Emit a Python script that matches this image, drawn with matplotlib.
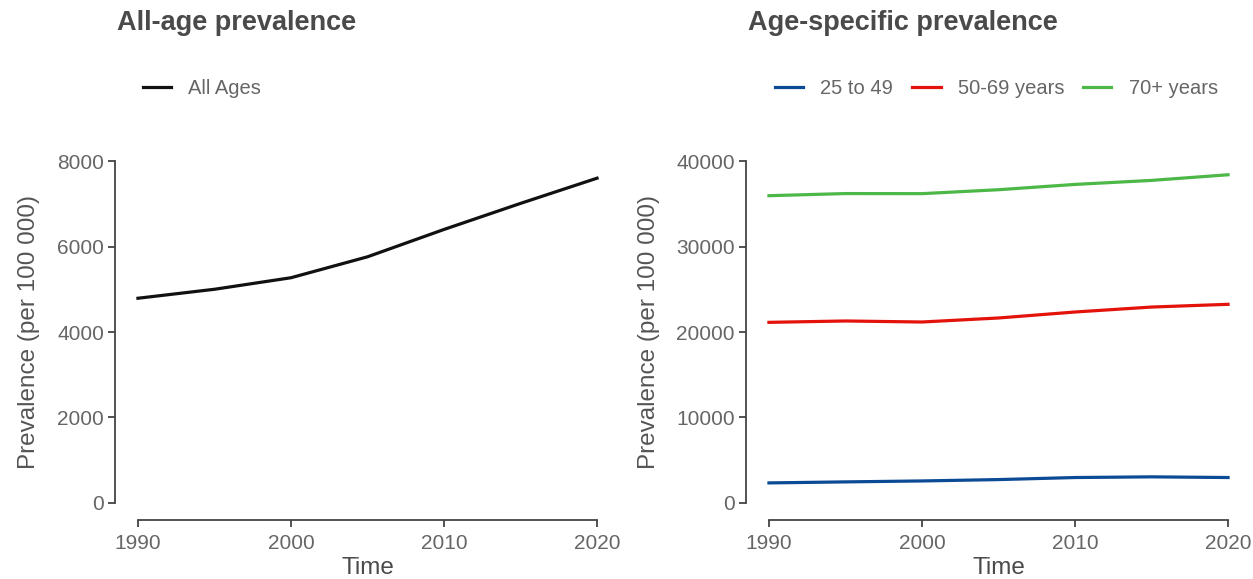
import matplotlib
matplotlib.use("Agg")
from matplotlib import pyplot as plt

plt.rcParams['font.family'] = ['Liberation Sans', 'DejaVu Sans']

years = [1990, 1995, 2000, 2005, 2010, 2015, 2020]

# all-age prevalence (per 100 000)
all_ages = [4790, 5000, 5270, 5760, 6400, 7010, 7600]

# age-specific prevalence (per 100 000)
age_25_49 = [2340, 2460, 2570, 2730, 2970, 3050, 2970]
age_50_69 = [21130, 21290, 21170, 21640, 22340, 22920, 23240]
age_70_plus = [35950, 36200, 36190, 36650, 37270, 37740, 38400]

age_labels = ['25 to 49', '50-69 years', '70+ years']
age_colors = ['#0B4A94', '#E3120B', '#4DB847']

x_ticks = [1990, 2000, 2010, 2020]

axis_col = '#444444'
tick_col = '#666666'
title_col = '#4a4a4a'

fig = plt.figure(figsize=(12.53, 5.79), dpi=100)
ax1 = fig.add_axes([115 / 1253, 1 - 520 / 579, 505 / 1253, 376 / 579])
ax2 = fig.add_axes([746 / 1253, 1 - 520 / 579, 505 / 1253, 376 / 579])


def style(ax, yticks):
    ax.set_xlim(1988.5, 2021.5)
    ax.set_ylim(-yticks[-1] * 0.05, yticks[-1] * 1.05)
    ax.set_xticks(x_ticks)
    ax.set_yticks(yticks)
    for s in ['top', 'right']:
        ax.spines[s].set_visible(False)
    for s in ['left', 'bottom']:
        ax.spines[s].set_color(axis_col)
        ax.spines[s].set_linewidth(1.3)
    ax.spines['left'].set_bounds(yticks[0], yticks[-1])
    ax.spines['bottom'].set_bounds(x_ticks[0], x_ticks[-1])
    ax.tick_params(direction='out', length=5, width=1.3, color=axis_col,
                   labelsize=15, labelcolor=tick_col, pad=3)
    ax.tick_params(axis='x', pad=5)
    ax.set_xlabel('Time', fontsize=17.5, color='#4a4a4a', labelpad=3)
    ax.set_ylabel('Prevalence (per 100 000)', fontsize=17.5, color='#555555', labelpad=12)


ax1.plot(years, all_ages, color='#111111', lw=2.3, label='All Ages')
style(ax1, [0, 2000, 4000, 6000, 8000])

ax2.plot(years, age_25_49, color=age_colors[0], lw=2.3, label=age_labels[0])
ax2.plot(years, age_50_69, color=age_colors[1], lw=2.3, label=age_labels[1])
ax2.plot(years, age_70_plus, color=age_colors[2], lw=2.3, label=age_labels[2])
style(ax2, [0, 10000, 20000, 30000, 40000])

leg_kw = dict(frameon=False, fontsize=14.5, handlelength=1.4, handletextpad=0.85,
              borderpad=0, borderaxespad=0, columnspacing=0.95,
              bbox_transform=fig.transFigure, loc='center left', labelcolor=tick_col)
ax1.legend(bbox_to_anchor=(143 / 1253, 1 - 89 / 579), **leg_kw)
ax2.legend(bbox_to_anchor=(775 / 1253, 1 - 89 / 579), ncol=3, **leg_kw)

fig.text(117 / 1253, 1 - 23 / 579, 'All-age prevalence', fontsize=19.5,
         fontweight='bold', color=title_col, va='center', ha='left')
fig.text(748 / 1253, 1 - 23 / 579, 'Age-specific prevalence', fontsize=19.5,
         fontweight='bold', color=title_col, va='center', ha='left')

fig.savefig('out.png', dpi=100, facecolor='white')
